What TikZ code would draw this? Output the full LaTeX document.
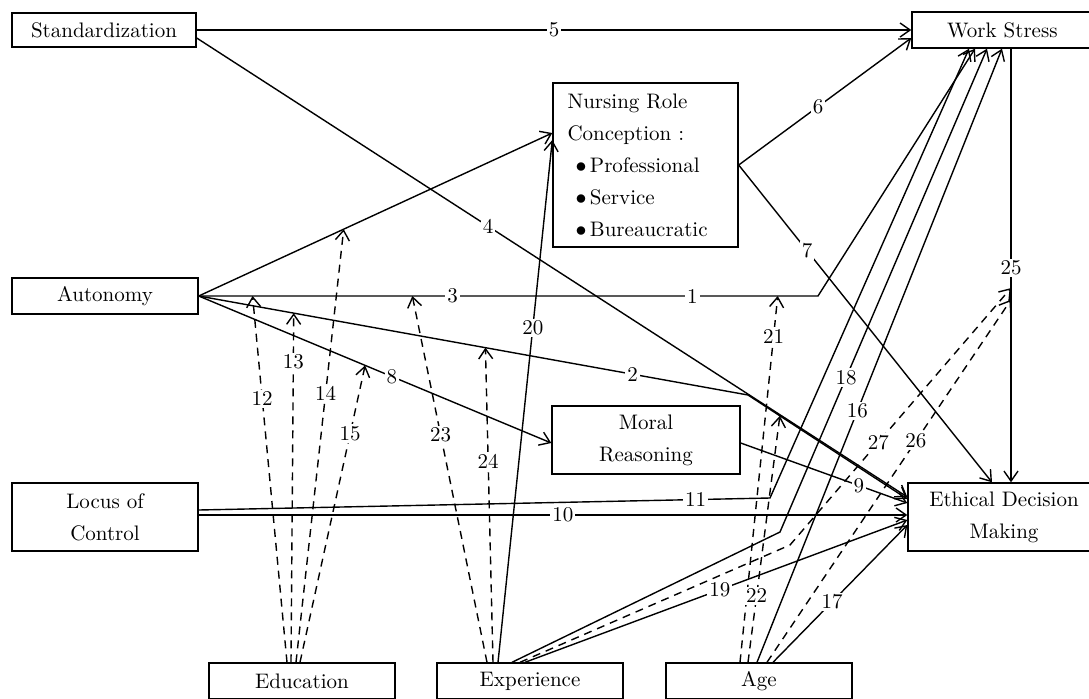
\documentclass[tikz,border=0pt]{standalone}
\usetikzlibrary{positioning, calc, arrows.meta}

\begin{document}
\begin{tikzpicture}[
    x=0.5pt, y=-0.5pt,
    box/.style={rectangle, draw, line width=0.7pt, minimum width=93pt, minimum height=18pt, inner sep=1pt, align=center, font=\fontsize{10.5}{13}\selectfont},
    tall/.style={box, minimum height=34pt},
    effect/.style={-{Straight Barb[length=5pt,width=7pt]}, line width=0.7pt},
    moder/.style={effect, dash pattern=on 4pt off 3pt},
    num/.style={fill=white, inner sep=1pt, font=\fontsize{10.5}{13}\selectfont}
]
\useasboundingbox (0,0) rectangle (1089,698);
\clip (0,0) rectangle (1089,698);

\node[box, minimum width=92pt, minimum height=17pt] (std) at (104,30) {Standardization};
\node[box, minimum width=95pt, text width=60pt, align=left, inner xsep=17pt] (ws) at (1007,30) {Work Stress};
\node[box, minimum width=92.5pt, minimum height=82pt, align=left, text width=78pt, inner xsep=7pt] (nrc) at (645.5,165)
    {Nursing Role\\[3pt]Conception :\\[3pt]\hspace{4pt}$\bullet$\,Professional\\[3pt]\hspace{4pt}$\bullet$\,Service\\[3pt]\hspace{4pt}$\bullet$\,Bureaucratic};
\node[box] (aut) at (105,296) {Autonomy};
\node[tall, minimum width=94pt] (mr) at (646,440) {Moral\\[3pt]Reasoning};
\node[tall] (loc) at (105,517) {Locus of\\[3pt]Control};
\node[tall, minimum width=96pt] (edm) at (1004,517) {Ethical Decision\\[3pt]Making};
\node[box] (edu) at (302,681) {Education};
\node[box] (exp) at (530,681) {Experience};
\node[box] (age) at (759,681) {Age};

\coordinate (b1) at (818,296);
\coordinate (b2) at (748,395);
\coordinate (b11) at (770,498);
\coordinate (b18) at (780,532);
\coordinate (b27) at (790,545);

% direct paths
\draw[effect] (std.east) -- node[num, pos=0.5] {5} (ws.west);
\draw[effect] ($(std.east)+(0,8)$) -- node[num, pos=0.41] {4} ($(edm.west)+(0,-20)$);
\draw[effect] (aut.east) -- coordinate[pos=0.41] (m14) ($(nrc.west)+(0,-32)$);
\draw[effect] (aut.east) -- coordinate[pos=0.087] (m12) coordinate[pos=0.345] (m23)
    node[num, pos=0.41] {3} node[num, pos=0.797] {1} coordinate[pos=0.935] (m21) (b1)
    -- ($(ws.south)+(-32,0)$);
\draw[effect] (aut.east) -- coordinate[pos=0.173] (m13) coordinate[pos=0.522] (m24)
    node[num, pos=0.79] {2} (b2) -- coordinate[pos=0.2] (m22) ($(edm.west)+(0,-18)$);
\draw[effect] (aut.east) -- coordinate[pos=0.472] (m15) node[num, pos=0.548] {8} ($(mr.west)+(0,3)$);
\draw[effect] (nrc.east) -- node[num, pos=0.46] {6} ($(ws.west)+(0,8)$);
\draw[effect] (nrc.east) -- node[num, pos=0.27] {7} ($(edm.north)+(-12,0)$);
\draw[effect] ($(mr.east)+(0,3)$) -- node[num, pos=0.71] {9} ($(edm.west)+(0,-14)$);
\draw[effect] ($(loc.east)+(0,-2)$) -- node[num, pos=0.514] {10} ($(edm.west)+(0,-2)$);
\draw[effect] ($(loc.east)+(0,-7)$) -- node[num, pos=0.87] {11} (b11) -- ($(ws.south)+(-38,0)$);
\draw[effect] ($(ws.south)+(4,0)$) -- coordinate[pos=0.552] (m27) coordinate[pos=0.579] (m26)
    node[num, pos=0.506] {25} ($(edm.north)+(7,0)$);

% experience
\draw[effect] ($(exp.north)+(-32,0)$) -- node[num, pos=0.64] {20} ($(nrc.west)+(0,-25)$);
\draw[effect] ($(exp.north)+(-18,0)$) -- (b18) -- node[num, pos=0.32] {18} ($(ws.south)+(-20,0)$);
\draw[effect] ($(exp.north)+(-5,0)$) -- node[num, pos=0.51] {19} ($(edm.west)+(0,3)$);
\draw[moder] ($(exp.north)+(-43,0)$) -- node[num, pos=0.62] {23} (m23);
\draw[moder] ($(exp.north)+(-37,0)$) -- node[num, pos=0.64] {24} (m24);
\draw[moder] ($(exp.north)+(-10,0)$) -- (b27) -- node[num, pos=0.4] {27} (m27);

% age
\draw[effect] ($(age.north)+(-2,0)$) -- node[num, pos=0.41] {16} ($(ws.south)+(-5,0)$);
\draw[effect] ($(age.north)+(14,0)$) -- node[num, pos=0.44] {17} ($(edm.west)+(0,8)$);
\draw[moder] ($(age.north)+(-19,0)$) -- node[num, pos=0.89] {21} (m21);
\draw[moder] ($(age.north)+(-11,0)$) -- node[num, pos=0.27] {22} (m22);
\draw[moder] ($(age.north)+(8,0)$) -- node[num, pos=0.61] {26} (m26);

% education
\draw[moder] ($(edu.north)+(-15,0)$) -- node[num, pos=0.72] {12} (m12);
\draw[moder] ($(edu.north)+(-11,0)$) -- node[num, pos=0.86] {13} (m13);
\draw[moder] ($(edu.north)+(-6,0)$) -- node[num, pos=0.62] {14} (m14);
\draw[moder] ($(edu.north)+(-2,0)$) -- node[num, pos=0.77] {15} (m15);

\end{tikzpicture}
\end{document}
